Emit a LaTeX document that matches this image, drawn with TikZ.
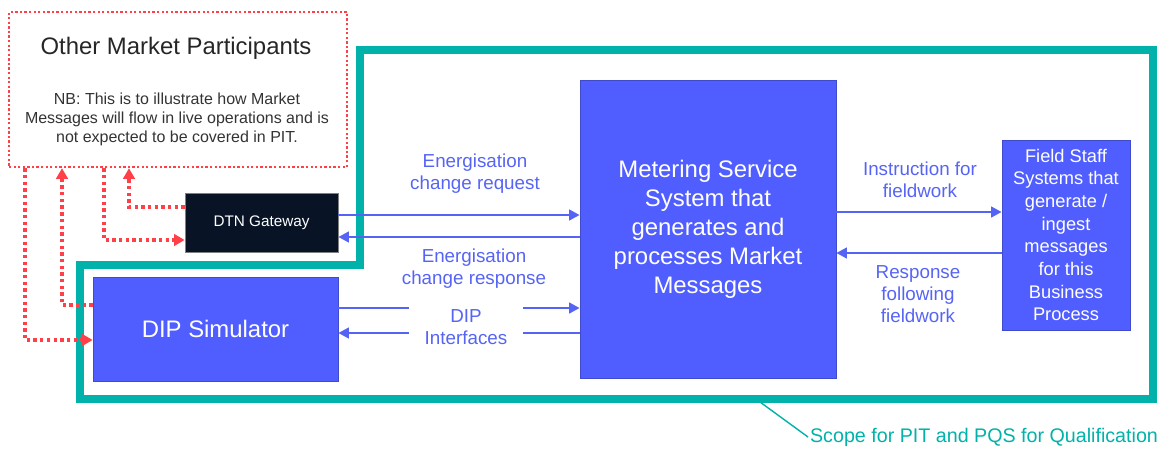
\documentclass[tikz,border=0pt]{standalone}
\usepackage{fontspec}
\setmainfont{Liberation Sans}
\usetikzlibrary{arrows.meta}
\definecolor{boxblue}{RGB}{80,94,255}
\definecolor{flowblue}{RGB}{86,100,245}
\definecolor{scopeteal}{RGB}{0,178,169}
\definecolor{dtnnavy}{RGB}{8,20,38}
\definecolor{dotred}{RGB}{255,64,72}

\begin{document}
\begin{tikzpicture}[x=0.02cm, y=-0.02cm,
    sysbox/.style={fill=boxblue, draw=boxblue!80!black, line width=0.4pt, text=white, align=center, inner sep=0pt},
    flow/.style={flowblue, line width=1.6pt, -{Triangle[length=6pt,width=6pt]}},
    msg/.style={text=flowblue, align=center, font=\fontsize{10.7}{12.5}\selectfont},
    live/.style={dotred, line width=2.2pt, dash pattern=on 1.9pt off 1.9pt, -{Triangle[length=6pt,width=6.5pt]}}]
        \useasboundingbox (0,0) rectangle (1163,450);

        % scope of the tests
        \draw[scopeteal, line width=4pt] (360,50) -- (1153,50) -- (1153,399) -- (80,399) -- (80,265) -- (360,265) -- cycle;

        \node[draw=dotred, line width=1.4pt, dash pattern=on 1.3pt off 1.3pt, minimum width=6.76cm, minimum height=3.1cm] (omp) at (178,89.5) {};
        \node[text=black!85, font=\fontsize{13.6}{16}\selectfont] (omptitle) at (176,48) {Other Market Participants};
        \node[text=black!80, align=center, font=\fontsize{9.1}{10.8}\selectfont] (ompnote) at (177,119) {NB: This is to illustrate how Market\\Messages will flow in live operations and is\\not expected to be covered in PIT.};

        \node[fill=dtnnavy, draw=gray, line width=0.4pt, minimum width=3.06cm, minimum height=1.18cm, text=white, font=\fontsize{8.7}{10}\selectfont] (dtn) at (261.5,222.5) {DTN Gateway};
        \node[sysbox, minimum width=4.9cm, minimum height=2.08cm, font=\fontsize{13.6}{16}\selectfont] (dip) at (215.5,329) {DIP Simulator};
        \node[sysbox, minimum width=5.12cm, minimum height=5.96cm, font=\fontsize{13.6}{16.5}\selectfont] (msys) at (708,229) {Metering Service\\System that\\generates and\\processes Market\\Messages};
        \node[sysbox, minimum width=2.56cm, minimum height=3.8cm, font=\fontsize{10.4}{12.9}\selectfont] (field) at (1066,235) {Field Staff\\Systems that\\generate /\\ingest\\messages\\for this\\Business\\Process};

        \draw[flow] (dtn.east |- 0,215) -- (msys.west |- 0,215);
        \draw[flow] (msys.west |- 0,237) -- (dtn.east |- 0,237);
        \draw[flow] (dip.east |- 0,308) -- (msys.west |- 0,308);
        \draw[flow] (msys.west |- 0,333) -- (dip.east |- 0,333);
        \draw[flow] (msys.east |- 0,212) -- (field.west |- 0,212);
        \draw[flow] (field.west |- 0,253) -- (msys.east |- 0,253);

        \node[msg] (reqlbl) at (475,174) {Energisation\\change request};
        \node[msg] (rsplbl) at (474,269) {Energisation\\change response};
        \node[msg, fill=white, minimum width=2.28cm, minimum height=1.1cm] (diplbl) at (466,327) {DIP\\Interfaces};
        \node[msg] (inslbl) at (920,180) {Instruction for\\fieldwork};
        \node[msg] (fwlbl) at (918,294) {Response\\following\\fieldwork};

        % live traffic, not in the tests
        \draw[live] (dtn.west |- 0,207) -| (129,0 |- omp.south);
        \draw[live] (omp.south -| 104,0) |- (dtn.west |- 0,240);
        \draw[live] (dip.west |- 0,305) -| (62,0 |- omp.south);
        \draw[live] (omp.south -| 25,0) |- (dip.west |- 0,340);

        \node[anchor=west, text=scopeteal, inner sep=1pt, font=\fontsize{11.2}{13}\selectfont] (scopelbl) at (808,437) {Scope for PIT and PQS for Qualification};
        \coordinate (scopept) at (760,402);
        \draw[scopeteal, line width=0.8pt] (scopept) -- (scopelbl.west);
    \end{tikzpicture}
\end{document}
